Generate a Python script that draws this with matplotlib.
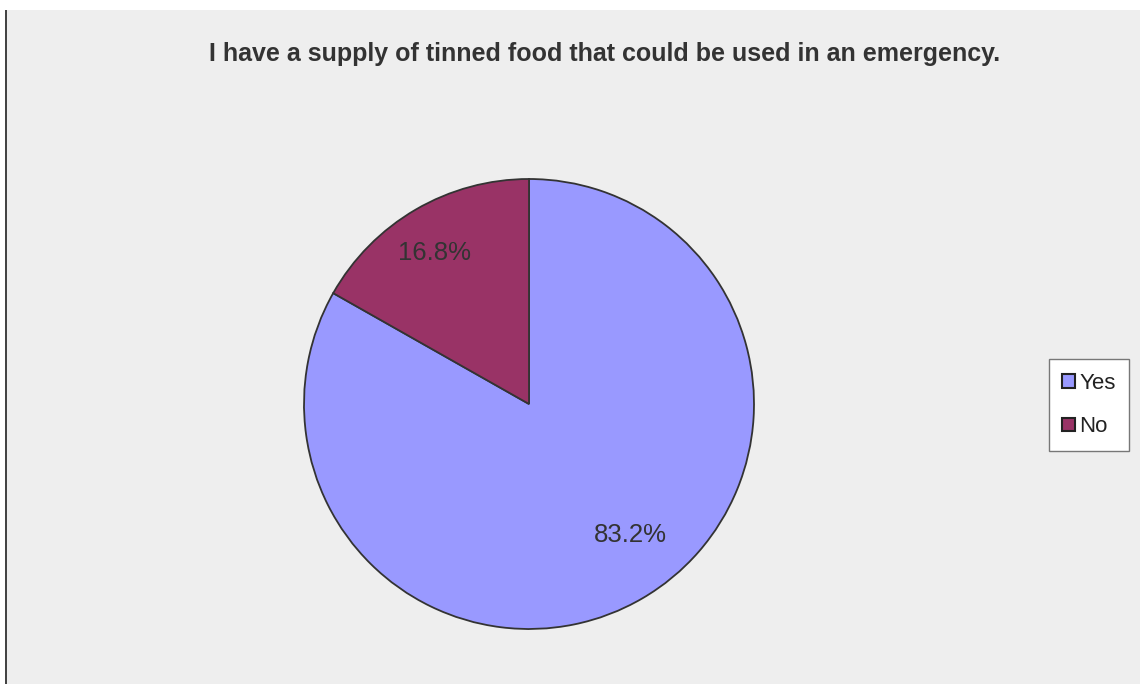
import numpy as np
import matplotlib.pyplot as plt
from matplotlib.patches import Rectangle

title = "I have a supply of tinned food that could be used in an emergency."
answers = ["Yes", "No"]
shares = [83.2, 16.8]
colours = ["#9999FF", "#993366"]

plt.rcParams['font.family'] = ['Liberation Sans', 'DejaVu Sans']

W, H = 1141, 684
fig = plt.figure(figsize=(W / 100, H / 100), dpi=100)
fig.patch.set_facecolor("white")

# grey chart area with the dark rule down its left side
fig.add_artist(Rectangle((7 / W, 0), (1140 - 7) / W, (H - 10) / H,
                         transform=fig.transFigure, facecolor="#EEEEEE",
                         edgecolor="none", zorder=0))
fig.add_artist(Rectangle((5 / W, 0), 2 / W, (H - 10) / H,
                         transform=fig.transFigure, facecolor="#444444",
                         edgecolor="none", zorder=0))

fig.text(605 / W, 1 - 54 / H, title, ha="center", va="center",
         fontsize=18, fontweight="bold", color="#333333")

# pie: centre (529, 404), radius 225 px
cx, cy, r = 529, 404, 225
ax = fig.add_axes([(cx - r) / W, 1 - (cy + r) / H, 2 * r / W, 2 * r / H])
ax.set_facecolor("none")
wedges, texts, autotexts = ax.pie(
    shares, colors=colours, startangle=90, counterclock=False,
    autopct="%.1f%%", pctdistance=0.76,
    wedgeprops=dict(edgecolor="#333333", linewidth=1.3),
    textprops=dict(fontsize=18.5, color="#333333"))
ax.set_xlim(-1, 1)
ax.set_ylim(-1, 1)
ax.set_aspect("equal")

# place percentages the way the spreadsheet lays them out
for t, dist, dang in zip(autotexts, [0.735, 0.79], [7.4, 1.7]):
    x, y = t.get_position()
    a = np.arctan2(y, x) + np.radians(dang)
    t.set_position((dist * np.cos(a), dist * np.sin(a)))

leg = fig.legend(wedges, answers, loc="center",
                 bbox_to_anchor=(1089 / W, 1 - 405 / H),
                 prop=dict(size=16), frameon=True, fancybox=False,
                 handlelength=0.55, handleheight=0.55, handletextpad=0.2,
                 labelspacing=1.0, borderpad=0.62, borderaxespad=0)
leg.get_frame().set_edgecolor("#777777")
leg.get_frame().set_linewidth(1.0)
leg.get_frame().set_facecolor("white")
leg.get_frame().set_alpha(1)
for h in leg.legend_handles:
    h.set_edgecolor("#222222")
    h.set_linewidth(1.5)
for t in leg.get_texts():
    t.set_color("#222222")

fig.savefig("out.png", dpi=100, facecolor=fig.get_facecolor())
